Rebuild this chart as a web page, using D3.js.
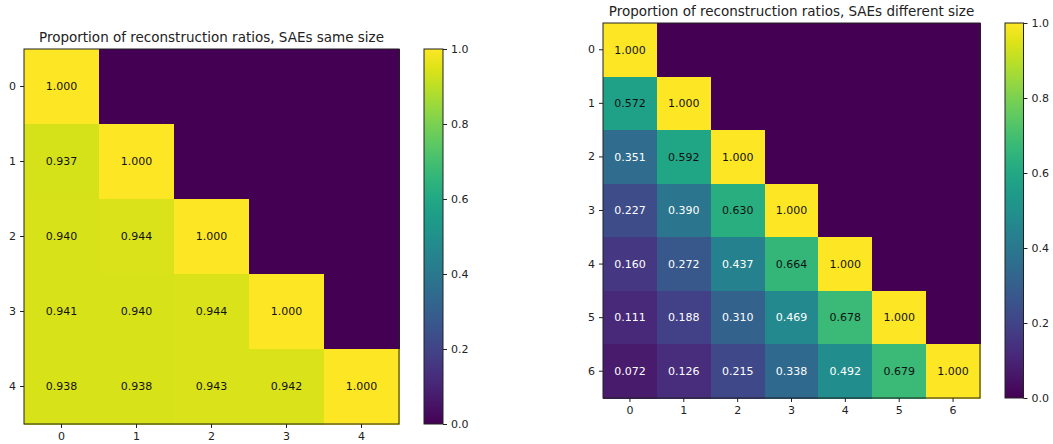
<!DOCTYPE html>
<html>
<head>
<meta charset="utf-8">
<script src="https://cdn.jsdelivr.net/npm/d3@7"></script>
<style>
  body { margin: 0; background: #fff; }
  svg { display: block; font-family: "DejaVu Sans", sans-serif; }
</style>
</head>
<body>
<script>
// data
const sameLabels = [0, 1, 2, 3, 4];
const sameRatios = [
    [1.000],
    [0.937, 1.000],
    [0.940, 0.944, 1.000],
    [0.941, 0.940, 0.944, 1.000],
    [0.938, 0.938, 0.943, 0.942, 1.000]
];
const diffLabels = [0, 1, 2, 3, 4, 5, 6];
const diffRatios = [
    [1.000],
    [0.572, 1.000],
    [0.351, 0.592, 1.000],
    [0.227, 0.390, 0.630, 1.000],
    [0.160, 0.272, 0.437, 0.664, 1.000],
    [0.111, 0.188, 0.310, 0.469, 0.678, 1.000],
    [0.072, 0.126, 0.215, 0.338, 0.492, 0.679, 1.000]
];
const colorbarTicks = [0, 0.2, 0.4, 0.6, 0.8, 1.0];

const W = 1053, H = 444;
const svg = d3.select('body').append('svg')
    .attr('width', W)
    .attr('height', H);

const color = d3.scaleSequential(d3.interpolateViridis).domain([0, 1]);

// shared viridis gradient for the colorbars
const grad = svg.append('defs').append('linearGradient')
    .attr('id', 'viridis')
    .attr('x1', 0).attr('y1', 1).attr('x2', 0).attr('y2', 0);
d3.range(0, 1.0001, 0.05).forEach(t => {
    grad.append('stop').attr('offset', t).attr('stop-color', color(t));
});

function drawHeatmap(opts) {
    const { labels, ratios, title, left, top, width, height, cbarX, cbarW } = opts;
    const g = svg.append('g');

    const x = d3.scaleBand().domain(labels).range([left, left + width]);
    const y = d3.scaleBand().domain(labels).range([top, top + height]);

    const cells = [];
    labels.forEach((r, i) => {
        labels.forEach((c, j) => {
            const v = j <= i ? ratios[i][j] : 0;
            cells.push({ r, c, v, shown: j <= i });
        });
    });

    g.selectAll('rect.cell')
        .data(cells)
        .join('rect')
        .attr('class', 'cell')
        .attr('x', d => x(d.c))
        .attr('y', d => y(d.r))
        .attr('width', x.bandwidth() + 1)
        .attr('height', y.bandwidth() + 1)
        .attr('shape-rendering', 'crispEdges')
        .attr('fill', d => color(d.v));

    g.selectAll('text.val')
        .data(cells.filter(d => d.shown))
        .join('text')
        .attr('class', 'val')
        .attr('x', d => x(d.c) + x.bandwidth() / 2)
        .attr('y', d => y(d.r) + y.bandwidth() / 2)
        .attr('dy', '0.35em')
        .attr('text-anchor', 'middle')
        .attr('font-size', 11)
        .attr('fill', d => d.v < 0.5 ? '#fff' : '#111')
        .text(d => d.v.toFixed(3));

    // frame
    g.append('rect')
        .attr('x', left).attr('y', top)
        .attr('width', width).attr('height', height)
        .attr('fill', 'none')
        .attr('stroke', '#222')
        .attr('stroke-width', 1);

    const xAxis = g.append('g')
        .attr('transform', `translate(0,${top + height})`)
        .call(d3.axisBottom(x).tickSize(4).tickPadding(4));
    const yAxis = g.append('g')
        .attr('transform', `translate(${left},0)`)
        .call(d3.axisLeft(y).tickSize(4).tickPadding(4));
    [xAxis, yAxis].forEach(a => {
        a.select('.domain').remove();
        a.selectAll('text').attr('font-size', 11).attr('fill', '#222')
            .style('font-family', '"DejaVu Sans", sans-serif');
        a.selectAll('line').attr('stroke', '#222');
    });

    g.append('text')
        .attr('x', left + width / 2)
        .attr('y', top - 7)
        .attr('text-anchor', 'middle')
        .attr('font-size', 13.5)
        .attr('fill', '#222')
        .text(title);

    // colorbar
    const cb = d3.scaleLinear().domain([0, 1]).range([top + height, top]);
    g.append('rect')
        .attr('x', cbarX).attr('y', top)
        .attr('width', cbarW).attr('height', height)
        .attr('fill', 'url(#viridis)')
        .attr('stroke', '#222')
        .attr('stroke-width', 1);
    const cbAxis = g.append('g')
        .attr('transform', `translate(${cbarX + cbarW},0)`)
        .call(d3.axisRight(cb).tickValues(colorbarTicks).tickFormat(d3.format('.1f'))
            .tickSize(4).tickPadding(4));
    cbAxis.select('.domain').remove();
    cbAxis.selectAll('text').attr('font-size', 11).attr('fill', '#222')
        .style('font-family', '"DejaVu Sans", sans-serif');
    cbAxis.selectAll('line').attr('stroke', '#222');
}

drawHeatmap({
    labels: sameLabels,
    ratios: sameRatios,
    title: 'Proportion of reconstruction ratios, SAEs same size',
    left: 24, top: 49, width: 375, height: 375,
    cbarX: 424, cbarW: 19
});

drawHeatmap({
    labels: diffLabels,
    ratios: diffRatios,
    title: 'Proportion of reconstruction ratios, SAEs different size',
    left: 603, top: 23, width: 377, height: 375,
    cbarX: 1005, cbarW: 18.5
});
</script>
</body>
</html>
